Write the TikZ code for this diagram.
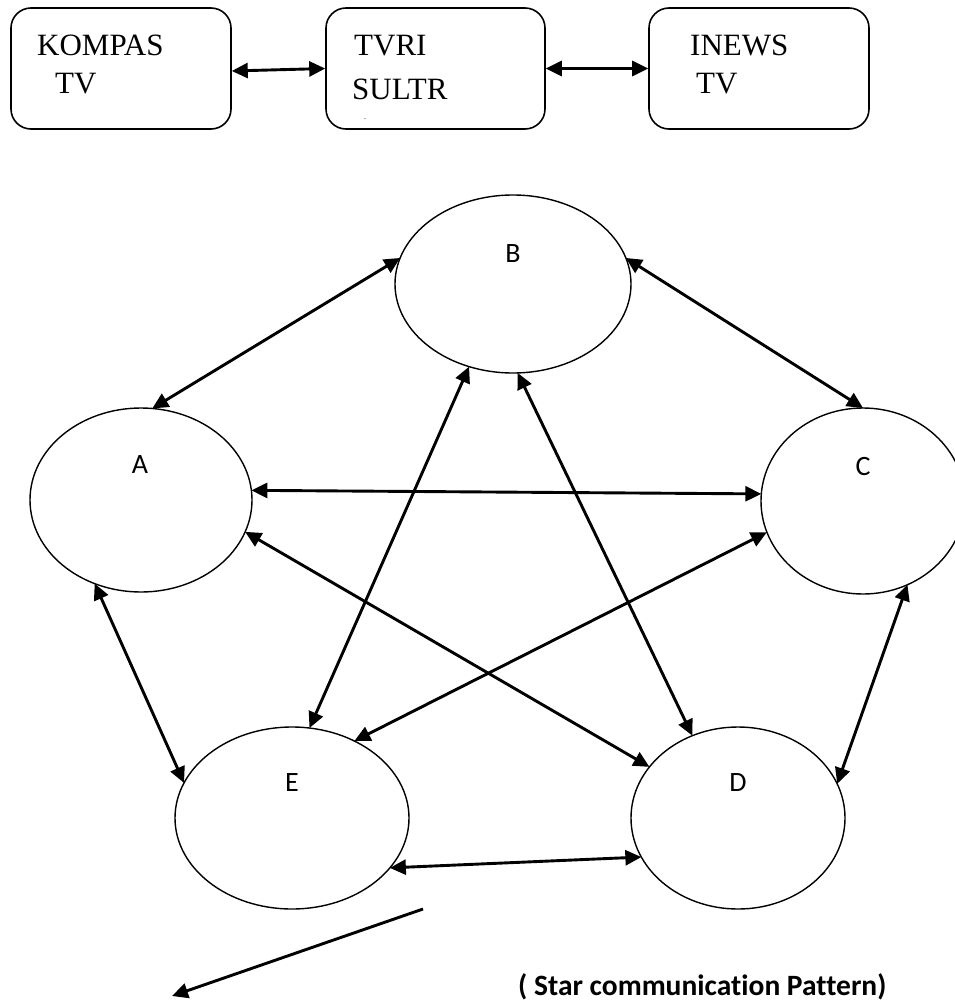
\documentclass[tikz,border=0pt]{standalone}
\usepackage{fontspec}
\setmainfont{Liberation Serif}
\newfontfamily\labelfont[Ligatures=NoCommon]{Carlito}
\usetikzlibrary{shapes.geometric,arrows.meta}

\begin{document}
\begin{tikzpicture}[x=1pt, y=-1pt,
    channel/.style={draw, line width=1.6pt, rounded corners=20pt, minimum width=220pt, minimum height=121pt, inner sep=0pt},
    chtext/.style={font=\fontsize{31}{31}\selectfont, anchor=base west, inner sep=0pt},
    person/.style={draw, ellipse, line width=1.4pt, inner sep=0pt, outer sep=0pt},
    who/.style={font=\labelfont\fontsize{28}{28}\selectfont, inner sep=0pt},
    link/.style={line width=2.9pt, {Triangle[length=16pt,width=15pt]}-{Triangle[length=16pt,width=15pt]}}]
    \useasboundingbox (0,0) rectangle (955,1001);

    % channels on top
    \node[channel] (kompas) at (121,68.5) {};
    \node[channel, minimum width=219pt] (tvri) at (435.5,68.5) {};
    \node[channel] (inews) at (759,68.5) {};
    \node[chtext] (kompas1) at (37,55) {KOMPAS};
    \node[chtext] (kompas2) at (55,93) {TV};
    \node[chtext] (tvri1) at (354,55) {TVRI};
    \node[chtext] (tvri2) at (352,99) {SULTR};
    \node[chtext, font=\fontsize{8}{8}\selectfont] (tvri3) at (364,119) {.};
    \node[chtext] (inews1) at (690,55) {INEWS};
    \node[chtext] (inews2) at (696,93) {TV};
    \draw[link] ([yshift=-2.5pt]kompas.east) -- (tvri.west);
    \draw[link] (tvri.east) -- (inews.west);

    % the five people
    \node[person, minimum width=222pt, minimum height=184pt] (A) at (141,500) {};
    \node[person, minimum width=236pt, minimum height=178pt] (B) at (513,284) {};
    \node[person, minimum width=204pt, minimum height=186pt] (C) at (863,501) {};
    \node[person, minimum width=214pt, minimum height=182pt] (D) at (738,818) {};
    \node[person, minimum width=234pt, minimum height=182pt] (E) at (292,818) {};
    \node[who] (labA) at (140,465) {A};
    \node[who] (labB) at (513,254) {B};
    \node[who] (labC) at (863,467) {C};
    \node[who] (labD) at (738,783) {D};
    \node[who] (labE) at (292,783) {E};

    \draw[link] (B.167) -- (A.83);
    \draw[link] (B.13) -- (C.90);
    \draw[link] (A.5) -- (C.176);
    \draw[link] (A.-17) -- (D.150);
    \draw[link] (B.242) -- (E.79);
    \draw[link] (B.273) -- (D.119.5);
    \draw[link] (C.198) -- (E.51);
    \draw[link] (A.241) -- (E.162.5);
    \draw[link] (C.298) -- (D.19);
    \draw[link] (E.333) -- (D.202);

    \coordinate (free) at (423,909);
    \coordinate (freeend) at (172,996);
    \draw[line width=2.9pt, -{Triangle[length=16pt,width=15pt]}] (free) -- (freeend);

    \node[font=\labelfont\bfseries\fontsize{29.5}{29.5}\selectfont, anchor=base west, inner sep=0pt] (caption) at (518,995) {( Star communication Pattern)};
\end{tikzpicture}
\end{document}
